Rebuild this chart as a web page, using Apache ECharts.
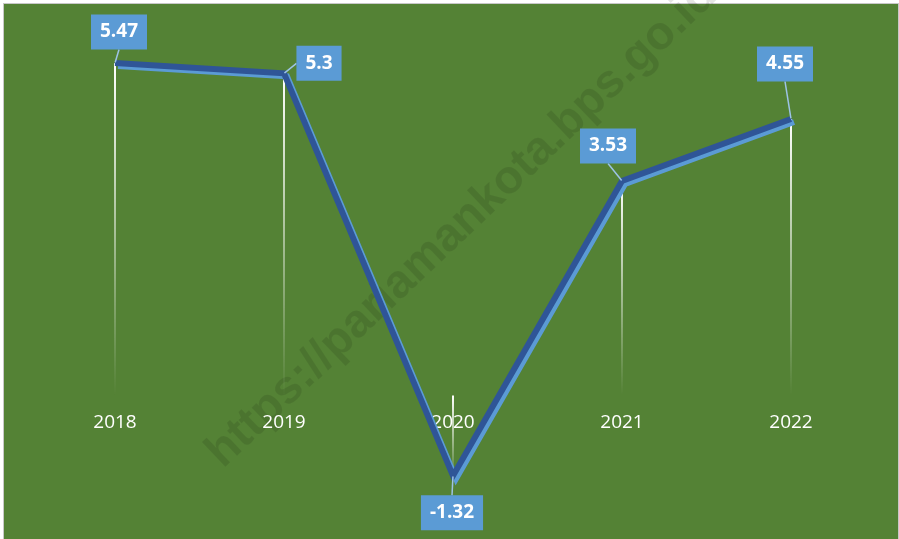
<!DOCTYPE html>
<html>
<head>
<meta charset="utf-8">
<script src="https://cdn.jsdelivr.net/npm/echarts@6/dist/echarts.min.js"></script>
<style>
  html, body { margin: 0; padding: 0; background: #fff; }
  #bg { position: absolute; left: 3px; top: 3px; width: 894px; height: 540px;
        border: 1px solid #c8c8c8; background: #548235; }
  #main { position: absolute; left: 0; top: 0; width: 899px; height: 539px; }
</style>
</head>
<body>
<div id="bg"></div>
<div id="main"></div>
<script>
var years = ['2018', '2019', '2020', '2021', '2022'];
var growth = [5.47, 5.3, -1.32, 3.53, 4.55];

// where each value box sits, relative to its point
var labelShift = [[4, -31], [35, -10], [-1, 37], [-14, -35], [-6, -55]];

var myChart = echarts.init(document.getElementById('main'));
var option = {
    backgroundColor: 'transparent',
    animation: false,
    grid: { left: 30.5, right: 23.5, top: 30.8, bottom: 21.8, containLabel: false, outerBoundsMode: 'none' },
    graphic: [{
        type: 'text',
        x: 462, y: 224,
        rotation: 0.76,
        z: -10,
        silent: true,
        style: {
            text: 'https://pariamankota.bps.go.id',
            font: 'bold 47px "Liberation Sans"',
            fill: 'rgba(0,0,0,0.1)',
            textAlign: 'center',
            textVerticalAlign: 'middle'
        }
    }],
    xAxis: {
        type: 'category',
        data: years,
        // labels sit just under the zero line (2 units above the grid bottom)
        offset: -121.6,
        axisLine: { show: false },
        axisTick: { show: false },
        axisLabel: { color: '#fff', fontSize: 19, fontFamily: 'Open Sans', margin: 17 }
    },
    yAxis: {
        type: 'value',
        min: -2, max: 6,
        show: false,
        splitLine: { show: false }
    },
    series: [
        {
            name: 'drop',
            type: 'bar',
            barWidth: 2,
            silent: true,
            z: 1,
            itemStyle: {
                color: new echarts.graphic.LinearGradient(0, 0, 0, 1, [
                    { offset: 0, color: 'rgba(255,255,255,1)' },
                    { offset: 1, color: 'rgba(255,255,255,0)' }
                ])
            },
            data: growth
        },
        {
            name: 'Pertumbuhan',
            type: 'line',
            data: growth,
            z: 3,
            symbol: 'circle',
            symbolSize: 1,
            itemStyle: { color: '#2f5597' },
            lineStyle: {
                color: '#2f5597',
                width: 6,
                join: 'miter',
                shadowColor: '#5b9bd5',
                shadowBlur: 0,
                shadowOffsetX: 3,
                shadowOffsetY: 3
            },
            label: {
                show: true,
                position: 'inside',
                backgroundColor: '#5b9bd5',
                color: '#fff',
                fontWeight: 'bold',
                fontFamily: 'Open Sans',
                fontSize: 19,
                padding: [9, 9, 7, 9]
            },
            labelLine: {
                show: true,
                lineStyle: { color: '#9dc3e6', width: 1.5 }
            },
            labelLayout: function (p) {
                var s = labelShift[p.dataIndex];
                return { dx: s[0], dy: s[1] };
            }
        }
    ]
};
myChart.setOption(option);
window.addEventListener("resize", function () {
    myChart.resize();
});
</script>
</body>
</html>
